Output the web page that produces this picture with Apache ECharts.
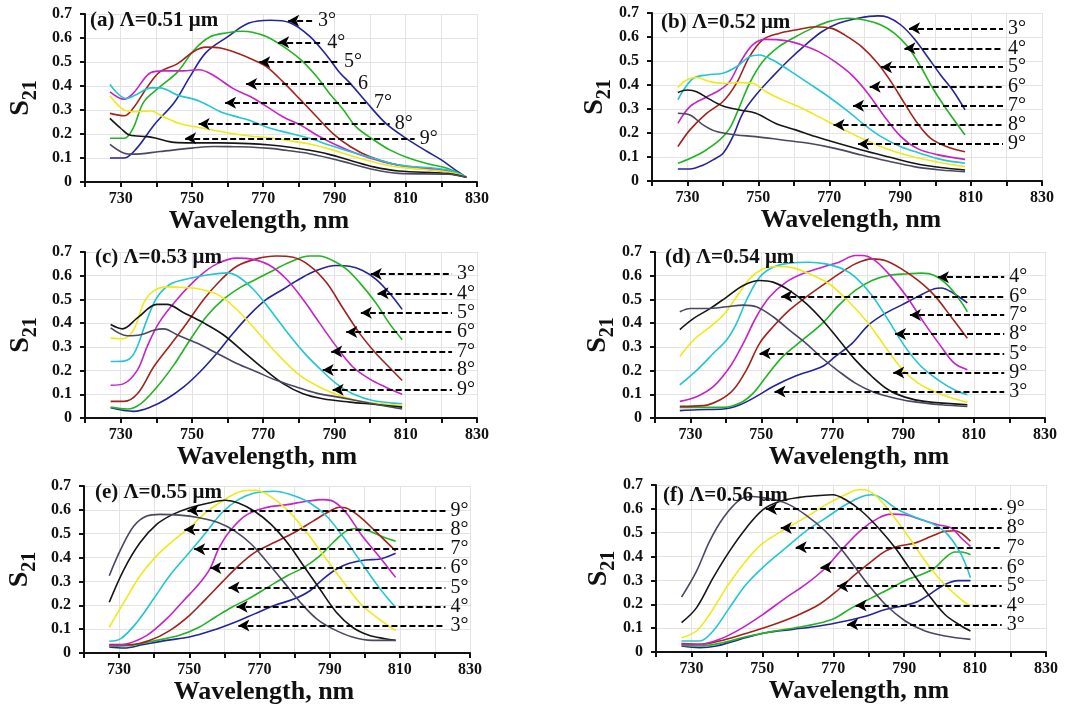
<!DOCTYPE html>
<html>
<head>
<meta charset="utf-8">
<title>S21 spectra</title>
<script src="https://cdn.jsdelivr.net/npm/echarts@6/dist/echarts.min.js"></script>
<style>
  html, body { margin: 0; padding: 0; background: #ffffff; }
  #chart { width: 1076px; height: 711px; }
</style>
</head>
<body>
<div id="chart"></div>
<script>
// S21 transmission versus wavelength for six grating periods (panels a–f).
// Each panel holds one curve per incidence angle; values are [wavelength nm, S21].

// ---- (a) Λ = 0.51 µm ----
const a3 = [[727,0.10],[731,0.10],[734.5,0.14],[739.5,0.24],[745,0.33],[749.5,0.44],[754,0.54],[760,0.605],[766,0.662],[772,0.674],[777.5,0.664],[783,0.608],[788,0.524],[791.5,0.455],[794.5,0.41],[799,0.332],[804.5,0.243],[810,0.183],[816,0.127],[820,0.092],[823.5,0.055],[827,0.02]];
const a4 = [[727,0.182],[731,0.182],[733.5,0.224],[736.5,0.334],[741,0.396],[746,0.459],[750.5,0.548],[755,0.604],[760,0.622],[764,0.628],[767,0.624],[771,0.605],[775.5,0.566],[780.5,0.51],[785,0.44],[788.5,0.371],[792.5,0.301],[796,0.231],[801,0.176],[805.5,0.134],[811,0.099],[816.5,0.075],[822,0.055],[827,0.02]];
const a5 = [[727,0.286],[731,0.276],[733.5,0.307],[737.5,0.396],[741,0.459],[746,0.493],[750.5,0.544],[754,0.562],[758,0.558],[763,0.535],[767,0.51],[771,0.48],[775.5,0.418],[780.5,0.342],[785,0.272],[789.5,0.203],[794.5,0.147],[800,0.105],[806.5,0.075],[813,0.057],[822,0.043],[827,0.02]];
const a6 = [[727,0.376],[731,0.345],[733.5,0.369],[738.5,0.456],[742,0.463],[747.5,0.463],[752,0.468],[756,0.445],[761.5,0.39],[766.5,0.355],[771,0.314],[775.5,0.272],[780.5,0.237],[785,0.196],[790.5,0.154],[796,0.12],[803.5,0.085],[811,0.064],[822,0.046],[827,0.02]];
const a7 = [[727,0.406],[731.5,0.348],[734.5,0.365],[738.5,0.392],[741,0.392],[746,0.362],[752,0.338],[758,0.293],[763.5,0.268],[766.5,0.255],[772,0.224],[777.5,0.203],[783,0.182],[788.5,0.154],[794.5,0.126],[801,0.099],[808,0.071],[822,0.05],[827,0.02]];
const a8 = [[727,0.359],[731,0.30],[734.5,0.293],[738.5,0.296],[742,0.272],[746.5,0.244],[752,0.227],[760,0.205],[766,0.192],[772,0.183],[777.5,0.172],[783,0.158],[788.5,0.138],[794.5,0.11],[801,0.083],[808,0.062],[822,0.042],[827,0.02]];
const a9 = [[727,0.265],[730,0.224],[732.5,0.196],[737.5,0.189],[740,0.182],[745,0.165],[750,0.163],[758,0.163],[766,0.16],[772,0.154],[777.5,0.145],[783,0.132],[788.5,0.115],[794.5,0.09],[801,0.063],[808,0.046],[822,0.035],[827,0.02]];
const a10 = [[727,0.157],[731,0.12],[733.5,0.116],[741,0.127],[750,0.141],[756,0.148],[762,0.147],[766,0.146],[772,0.14],[777.5,0.13],[783,0.118],[788.5,0.1],[794.5,0.077],[801,0.052],[808,0.036],[822,0.032],[827,0.02]];

// ---- (b) Λ = 0.52 µm ----
const b3 = [[727.3,0.05],[730.7,0.05],[734.5,0.067],[737.2,0.088],[740,0.115],[742.8,0.185],[745.6,0.282],[749.3,0.358],[754,0.435],[758.6,0.504],[763.3,0.567],[767.9,0.622],[772.6,0.657],[778.1,0.678],[783.7,0.688],[786.5,0.682],[790.2,0.65],[793.9,0.594],[797.7,0.518],[801.4,0.442],[805.1,0.372],[808.3,0.296]];
const b4 = [[727.3,0.074],[730.7,0.094],[734.5,0.122],[739.1,0.171],[741.9,0.219],[744.7,0.31],[747.5,0.407],[751.2,0.497],[755.8,0.56],[760.5,0.601],[765.1,0.636],[769.8,0.664],[775.4,0.678],[780,0.671],[784.6,0.65],[788.4,0.615],[792.1,0.56],[795.8,0.476],[799.5,0.379],[803.2,0.296],[808.3,0.192]];
const b5 = [[727.3,0.143],[730.7,0.213],[735.4,0.282],[740,0.331],[743.8,0.407],[747.5,0.518],[751.2,0.588],[755.8,0.615],[760.5,0.629],[766.1,0.643],[770.7,0.636],[774.4,0.608],[779.1,0.56],[783.7,0.49],[787.4,0.414],[791.2,0.324],[794.9,0.24],[798.6,0.178],[803.2,0.143],[808.3,0.122]];
const b6 = [[727.3,0.24],[730.7,0.31],[735.4,0.35],[739.1,0.379],[741.9,0.414],[744.7,0.49],[748.4,0.567],[752,0.59],[757.7,0.585],[762.3,0.567],[767,0.539],[771.6,0.497],[776.3,0.442],[780.9,0.365],[785.6,0.268],[790.2,0.185],[794.9,0.135],[800.4,0.11],[808.3,0.09]];
const b7 = [[727.3,0.338],[728.9,0.379],[731.7,0.428],[735.4,0.442],[740,0.449],[743.8,0.476],[747.5,0.518],[750.3,0.525],[754,0.504],[758.6,0.462],[764.2,0.407],[769.8,0.351],[775.4,0.289],[780,0.233],[784.6,0.185],[790.2,0.143],[795.8,0.115],[801.4,0.09],[808.3,0.074]];
const b8 = [[727.3,0.39],[729.8,0.421],[732.6,0.431],[736.3,0.414],[740,0.407],[744.7,0.41],[748.4,0.407],[752.1,0.372],[756.8,0.338],[762.3,0.303],[767.9,0.261],[773.5,0.219],[779.1,0.178],[784.6,0.143],[790.2,0.115],[795.8,0.094],[802.3,0.074],[808.3,0.06]];
const b9 = [[727.3,0.369],[730,0.379],[732.6,0.372],[736.3,0.34],[740,0.313],[744.7,0.296],[749.3,0.282],[754.9,0.24],[760.5,0.213],[766.1,0.185],[771.7,0.16],[779.1,0.129],[786.5,0.101],[793.9,0.074],[801.4,0.056],[808.3,0.046]];
const b10 = [[727.3,0.282],[730.7,0.275],[734.5,0.233],[738.2,0.206],[743.8,0.192],[749.3,0.185],[756.8,0.171],[764.2,0.157],[771.6,0.136],[779.1,0.108],[786.5,0.083],[793.9,0.06],[801.4,0.046],[808.3,0.039]];

// ---- (c) Λ = 0.53 µm ----
const c3 = [[727.2,0.043],[733.7,0.028],[738.4,0.046],[743,0.081],[747.7,0.131],[752.3,0.195],[757,0.273],[761.6,0.358],[766.3,0.437],[770.9,0.5],[775.6,0.543],[780.2,0.586],[784.9,0.622],[790.5,0.643],[794.2,0.64],[797.9,0.622],[801.6,0.586],[805.3,0.529],[809,0.458]];
const c4 = [[727.2,0.046],[731.9,0.038],[735.6,0.06],[740.2,0.131],[744.9,0.223],[749.5,0.33],[754.2,0.43],[758.8,0.5],[763.5,0.55],[768.1,0.586],[772.8,0.622],[777.4,0.657],[783,0.683],[785.8,0.683],[789.5,0.664],[793.3,0.629],[797,0.572],[801.6,0.486],[805.3,0.401],[809,0.33]];
const c5 = [[727.2,0.07],[730.9,0.07],[734.7,0.102],[739.3,0.216],[744,0.309],[748.6,0.401],[753.3,0.5],[757.9,0.579],[762.6,0.64],[768.1,0.671],[773.7,0.683],[778.4,0.678],[783,0.643],[787.7,0.572],[792.3,0.465],[797,0.358],[801.6,0.273],[805.3,0.215],[809,0.158]];
const c6 = [[727.2,0.138],[730.9,0.145],[734.7,0.202],[737.4,0.3],[740.7,0.4],[745.8,0.5],[752.3,0.6],[757,0.65],[762.6,0.674],[767.2,0.669],[771.9,0.643],[776.5,0.586],[781.2,0.5],[785.8,0.401],[790.5,0.302],[795.1,0.216],[799.8,0.165],[804.4,0.13],[809,0.1]];
const c7 = [[727.2,0.238],[730.9,0.24],[733.7,0.27],[737.4,0.415],[740.2,0.508],[744,0.565],[749.5,0.589],[755.1,0.605],[759.8,0.612],[762.6,0.6],[767.2,0.543],[771.9,0.458],[776.5,0.366],[781.2,0.28],[785.8,0.209],[790.5,0.145],[795.1,0.102],[800.7,0.074],[809,0.06]];
const c8 = [[727.2,0.337],[730.5,0.334],[733.7,0.373],[736.5,0.486],[739.3,0.536],[743,0.553],[747.7,0.55],[752.3,0.543],[757.9,0.515],[763.5,0.444],[769.1,0.351],[774.7,0.259],[780.2,0.181],[785.8,0.131],[791.4,0.095],[798.8,0.067],[809,0.053]];
const c9 = [[727.2,0.394],[730.5,0.376],[734.7,0.422],[740.2,0.479],[743,0.479],[747.7,0.444],[753.3,0.401],[758.8,0.351],[764.4,0.28],[770,0.209],[775.6,0.145],[781.2,0.102],[786.7,0.081],[794.2,0.067],[801.6,0.057],[809,0.046]];
const c10 = [[727.2,0.38],[731.9,0.347],[735.6,0.351],[739.3,0.37],[742.1,0.376],[745.8,0.351],[751.4,0.316],[757,0.273],[762.6,0.23],[768.1,0.195],[773.7,0.159],[779.3,0.131],[784.9,0.105],[792.3,0.085],[799.8,0.063],[809,0.038]];

// ---- (d) Λ = 0.54 µm ----
const d3 = [[727,0.031],[731.9,0.035],[739.3,0.038],[744,0.056],[748.6,0.091],[753.3,0.133],[759.8,0.178],[767.2,0.217],[770.9,0.26],[775.6,0.315],[780.2,0.392],[784.9,0.441],[789.5,0.476],[794.2,0.513],[798.8,0.545],[800.7,0.548],[804.4,0.524],[808.1,0.485]];
const d4 = [[727,0.045],[731.9,0.045],[739.3,0.045],[744,0.063],[747.7,0.105],[751.4,0.175],[756,0.259],[761.6,0.329],[767.2,0.399],[771.9,0.476],[776.5,0.538],[781.2,0.58],[785.8,0.601],[791.4,0.608],[795.1,0.611],[798.8,0.601],[802.6,0.559],[806.3,0.49],[808.1,0.448]];
const d5 = [[727,0.049],[733.7,0.052],[738.4,0.077],[742.1,0.119],[745.8,0.203],[749.5,0.315],[753.3,0.385],[757.9,0.455],[762.6,0.51],[767.2,0.559],[771.9,0.608],[776.5,0.65],[781.2,0.671],[784.9,0.664],[789.5,0.629],[794.2,0.58],[798.8,0.517],[803.5,0.427],[808.1,0.336]];
const d6 = [[727,0.07],[731.9,0.091],[736.5,0.133],[741.2,0.217],[744.9,0.315],[748.6,0.427],[752.3,0.51],[757,0.573],[761.6,0.608],[767.2,0.636],[771.9,0.657],[776.5,0.685],[778.4,0.685],[782.1,0.664],[786.7,0.594],[791.4,0.503],[796,0.399],[800.7,0.301],[804.4,0.231],[808.1,0.203]];
const d7 = [[727,0.14],[731.9,0.203],[736.5,0.273],[740.2,0.329],[743,0.399],[745.8,0.497],[749.5,0.594],[753.3,0.636],[757.9,0.653],[763.5,0.657],[768.1,0.65],[772.8,0.629],[776.5,0.594],[781.2,0.517],[785.8,0.413],[790.5,0.301],[795.1,0.217],[799.8,0.161],[804.4,0.119],[808.1,0.098]];
const d8 = [[727,0.259],[730.9,0.329],[735.6,0.385],[739.3,0.434],[743,0.51],[746.7,0.587],[750.5,0.629],[754.2,0.639],[758.8,0.634],[763.5,0.608],[769.1,0.566],[774.7,0.49],[780.2,0.399],[784.9,0.301],[789.5,0.21],[794.2,0.147],[798.8,0.112],[803.5,0.085],[808.1,0.066]];
const d9 = [[727,0.373],[730.9,0.42],[735.6,0.462],[740.2,0.51],[744.9,0.559],[749.5,0.58],[753.3,0.573],[757.9,0.538],[762.6,0.483],[767.2,0.413],[771.9,0.329],[776.5,0.245],[781.2,0.175],[785.8,0.119],[790.5,0.088],[796,0.07],[808.1,0.056]];
const d10 = [[727,0.448],[730,0.462],[734.7,0.462],[740.2,0.469],[744.9,0.476],[748.6,0.469],[753.3,0.427],[757.9,0.371],[762.6,0.315],[767.2,0.252],[771.9,0.196],[776.5,0.147],[781.2,0.112],[785.8,0.091],[792.3,0.07],[800.7,0.056],[808.1,0.049]];

// ---- (e) Λ = 0.55 µm ----
const e3 = [[727.2,0.025],[731.4,0.021],[737,0.036],[743.5,0.053],[750,0.067],[756.5,0.094],[763,0.129],[768.6,0.164],[774.2,0.199],[779.8,0.226],[784.4,0.261],[788.1,0.31],[791.9,0.351],[795.6,0.376],[800.2,0.39],[804,0.393],[808.8,0.418]];
const e4 = [[727.2,0.029],[733.3,0.032],[740.7,0.053],[747.2,0.074],[752.8,0.108],[757.4,0.15],[762.1,0.192],[766.7,0.226],[772.3,0.275],[777.9,0.324],[782.6,0.358],[787.2,0.407],[791,0.463],[794.7,0.511],[797.4,0.522],[801.2,0.511],[805.8,0.483],[808.8,0.469]];
const e5 = [[727.2,0.035],[733.3,0.035],[738.8,0.053],[744.4,0.094],[750,0.157],[754.7,0.226],[759.3,0.296],[764,0.365],[768.6,0.421],[774.2,0.463],[779.8,0.504],[785.3,0.553],[790,0.594],[792.8,0.611],[794.7,0.608],[798.4,0.574],[803,0.511],[808.8,0.428]];
const e6 = [[727.2,0.032],[732.3,0.039],[737.9,0.074],[743.5,0.143],[748.1,0.215],[752.8,0.29],[756,0.356],[758.3,0.435],[761.2,0.504],[765.8,0.574],[771.4,0.608],[777.9,0.622],[783.5,0.636],[788.1,0.643],[791,0.636],[794.7,0.588],[799.3,0.49],[804,0.407],[808.8,0.317]];
const e7 = [[727.2,0.049],[730.5,0.06],[735.1,0.129],[739.8,0.226],[744.4,0.324],[750,0.421],[754.7,0.504],[759.3,0.588],[764,0.643],[768.6,0.671],[774.2,0.678],[778.8,0.664],[784.4,0.629],[789.1,0.574],[793.7,0.49],[798.4,0.393],[803,0.296],[806.7,0.226],[808.8,0.192]];
const e8 = [[727.2,0.108],[731.4,0.213],[736,0.324],[740.7,0.407],[745.3,0.469],[750,0.525],[754.7,0.588],[759.3,0.636],[764.9,0.678],[768.6,0.682],[772.3,0.664],[777.9,0.601],[783.5,0.504],[789.1,0.393],[794.7,0.282],[799.3,0.199],[804,0.143],[808.8,0.094]];
const e9 = [[727.2,0.213],[731.4,0.351],[736,0.463],[740.7,0.539],[745.3,0.581],[750,0.608],[755.6,0.629],[760.2,0.64],[764,0.629],[768.6,0.594],[773.3,0.539],[777.9,0.463],[782.6,0.365],[787.2,0.268],[791.9,0.171],[796.5,0.108],[801.2,0.074],[805.8,0.06],[808.8,0.053]];
const e10 = [[727.2,0.324],[730.5,0.435],[734.2,0.532],[737.9,0.574],[741.6,0.581],[747.2,0.578],[752.8,0.567],[758.4,0.546],[763,0.511],[767.7,0.456],[772.3,0.379],[777,0.296],[781.6,0.213],[786.3,0.143],[790.9,0.101],[796.5,0.067],[802.1,0.053],[808.8,0.053]];

// ---- (f) Λ = 0.56 µm ----
const f3 = [[727.2,0.025],[732.3,0.018],[737,0.025],[743.6,0.053],[751,0.081],[758.5,0.095],[766,0.109],[773.5,0.13],[779.1,0.15],[784.7,0.178],[790.3,0.196],[794,0.213],[797.8,0.248],[801.5,0.283],[805.2,0.299],[808.7,0.299]];
const f4 = [[727.2,0.029],[732.3,0.025],[738.8,0.039],[746.3,0.067],[753.7,0.088],[762.1,0.109],[769.6,0.136],[775.2,0.185],[780.8,0.227],[785.5,0.262],[790.2,0.299],[794.9,0.325],[798.6,0.352],[801.5,0.394],[804.3,0.419],[806.2,0.419],[808.7,0.408]];
const f5 = [[727.2,0.035],[732.3,0.032],[737.9,0.046],[744.5,0.074],[752,0.109],[759.3,0.15],[766,0.199],[771.5,0.262],[776.2,0.325],[780.8,0.38],[784.6,0.422],[788.3,0.443],[793,0.457],[797.7,0.485],[801.5,0.506],[804.3,0.508],[808.7,0.464]];
const f6 = [[727.2,0.032],[732.3,0.032],[737.9,0.053],[743.6,0.095],[750.1,0.157],[756.6,0.227],[762.2,0.283],[767.8,0.352],[772.4,0.429],[778,0.513],[782.7,0.561],[786.4,0.578],[790.2,0.575],[794.9,0.554],[799.5,0.533],[803.3,0.52],[806.1,0.478],[808.7,0.443]];
const f7 = [[727.2,0.046],[732.3,0.046],[736.1,0.088],[740.7,0.185],[745.4,0.283],[751,0.366],[756.6,0.436],[762.2,0.506],[767.8,0.561],[773.5,0.617],[778.1,0.652],[780.8,0.659],[783.6,0.645],[788.3,0.596],[793.9,0.561],[798.6,0.533],[802.3,0.492],[806.1,0.408],[808.7,0.311]];
const f8 = [[727.2,0.06],[731.4,0.088],[735.1,0.157],[739.8,0.269],[744.5,0.366],[749.1,0.443],[753.8,0.492],[759.4,0.54],[764.1,0.582],[768.7,0.624],[773.4,0.659],[777.1,0.68],[779,0.68],[782.7,0.645],[787.4,0.561],[792.1,0.464],[796.7,0.366],[801.4,0.283],[806.1,0.22],[808.7,0.192]];
const f9 = [[727.2,0.123],[731.4,0.185],[736.1,0.311],[740.7,0.422],[745.4,0.519],[750.1,0.596],[754.8,0.631],[760.4,0.648],[766,0.656],[769.8,0.659],[773.5,0.638],[778.1,0.589],[782.8,0.519],[787.5,0.436],[792.1,0.338],[796.8,0.241],[801.5,0.157],[806.1,0.109],[808.7,0.088]];
const f10 = [[727.2,0.23],[731.4,0.338],[735.1,0.464],[738.9,0.561],[743.6,0.638],[747.3,0.652],[751,0.645],[756.6,0.624],[762.2,0.575],[767.8,0.506],[773.5,0.408],[779.1,0.297],[784.7,0.199],[790.3,0.13],[795.9,0.088],[801.5,0.067],[808.7,0.053]];

// Angle call-outs: [label, arrow tip λ, dashed tail λ, S21 level]
const arrowsA = [['3°',777,784,0.672],['4°',774.2,786.6,0.582],['5°',768.9,791.3,0.499],['6',765.2,795.2,0.408],['7°',759.3,799.7,0.33],['8°',751.9,805.5,0.242],['9°',748.1,812.5,0.182]];
const arrowsB = [['3°',792.5,819,0.636],['4°',791.2,819,0.553],['5°',784.6,819,0.474],['6°',781.4,819,0.393],['7°',776.7,819,0.314],['8°',771.2,819,0.233],['9°',778.1,819,0.154]];
const arrowsC = [['3°',800.2,823,0.607],['4°',802.1,823,0.526],['5°',797.4,823,0.444],['6°',793.3,823,0.363],['7°',789.1,823,0.28],['8°',786.7,823,0.202],['9°',789.5,823,0.119]];
const arrowsD = [['4°',799.8,818.5,0.594],['6°',755.6,818.5,0.513],['7°',791.9,818.5,0.434],['8°',787.7,818.5,0.354],['5°',749.5,818.5,0.273],['9°',787.2,818.5,0.192],['3°',753.7,818.5,0.112]];
const arrowsE = [['9°',749.5,823,0.597],['8°',748.6,823,0.518],['7°',751.4,823,0.435],['6°',756,823,0.356],['5°',761.2,823,0.275],['4°',763.5,823,0.194],['3°',764,823,0.115]];
const arrowsF = [['9°',751,817.5,0.599],['8°',755.2,817.5,0.52],['7°',759.4,817.5,0.439],['6°',766.4,817.5,0.355],['5°',771.1,817.5,0.276],['4°',776.3,817.5,0.195],['3°',773.9,817.5,0.116]];

const panelTitles = ['(a) Λ=0.51 μm','(b) Λ=0.52 μm','(c) Λ=0.53 μm','(d) Λ=0.54 μm','(e) Λ=0.55 μm','(f) Λ=0.56 μm'];
const angleNames = ['3°','4°','5°','6°','7°','8°','9°','10°'];

// ---- layout and styling ----
const SERIF = '"Liberation Serif", "Times New Roman", "DejaVu Serif", serif';
const curveColors = ['#25259a','#22b422','#a3221c','#c623c6','#22c6d2','#eeea18','#161616','#48485f'];

// box: plot area; titleAt: panel caption; sName: gap of the S21 caption;
// xShift: horizontal offset of the wavelength caption from the axis centre
const panels = [
  { curves: [a3,a4,a5,a6,a7,a8,a9,a10], arrows: arrowsA, box: {left: 85,  top: 14,  width: 392, height: 168}, titleAt: [87, 9],   sName: 50, xShift: -22 },
  { curves: [b3,b4,b5,b6,b7,b8,b9,b10], arrows: arrowsB, box: {left: 652, top: 13,  width: 390, height: 168}, titleAt: [658, 11], sName: 42, xShift: 4 },
  { curves: [c3,c4,c5,c6,c7,c8,c9,c10], arrows: arrowsC, box: {left: 85,  top: 252, width: 392, height: 166}, titleAt: [92, 246], sName: 50, xShift: -14 },
  { curves: [d3,d4,d5,d6,d7,d8,d9,d10], arrows: arrowsD, box: {left: 655, top: 252, width: 390, height: 166}, titleAt: [662, 246], sName: 42, xShift: 9 },
  { curves: [e3,e4,e5,e6,e7,e8,e9,e10], arrows: arrowsE, box: {left: 84,  top: 486, width: 386, height: 167}, titleAt: [92, 481], sName: 50, xShift: -13 },
  { curves: [f3,f4,f5,f6,f7,f8,f9,f10], arrows: arrowsF, box: {left: 656, top: 485, width: 390, height: 167}, titleAt: [660, 484], sName: 42, xShift: 8 }
];

const grid = [], xAxis = [], yAxis = [], series = [], title = [];

panels.forEach((p, i) => {
  grid.push(Object.assign({ containLabel: false }, p.box));

  const shift = p.xShift;
  xAxis.push({
    type: 'value', gridIndex: i, min: 720, max: 830, interval: 10,
    name: 'Wavelength, nm', nameLocation: 'middle', nameGap: 25,
    nameTextStyle: {
      fontFamily: SERIF, fontWeight: 'bold', fontSize: 26, color: '#111',
      padding: shift >= 0 ? [0, 0, 0, 2 * shift] : [0, -2 * shift, 0, 0]
    },
    axisLine: { show: true, onZero: false, lineStyle: { color: '#111', width: 2 } },
    axisTick: { show: true, length: 5, lineStyle: { color: '#111', width: 2 } },
    axisLabel: {
      fontFamily: SERIF, fontWeight: 'bold', fontSize: 16, color: '#111', margin: 9,
      formatter: v => ((Math.round(v) - 730) % 20 === 0 ? String(Math.round(v)) : '')
    },
    splitLine: { show: true, lineStyle: { color: '#e3e3e3', width: 1 } }
  });

  yAxis.push({
    type: 'value', gridIndex: i, min: 0, max: 0.7, interval: 0.1,
    name: '{s|S}{d|21}', nameLocation: 'middle', nameGap: p.sName, nameRotate: 90,
    nameTextStyle: {
      rich: {
        s: { fontFamily: SERIF, fontWeight: 'bold', fontSize: 28, color: '#111', verticalAlign: 'bottom', lineHeight: 32 },
        d: { fontFamily: SERIF, fontWeight: 'bold', fontSize: 20, color: '#111', verticalAlign: 'bottom', lineHeight: 32, padding: [0, 0, -6, 0] }
      }
    },
    axisLine: { show: true, onZero: false, lineStyle: { color: '#111', width: 2 } },
    axisTick: { show: true, length: 5, lineStyle: { color: '#111', width: 2 } },
    axisLabel: {
      fontFamily: SERIF, fontWeight: 'bold', fontSize: 16, color: '#111', margin: 13,
      formatter: v => (Math.abs(v) < 1e-9 ? '0' : v.toFixed(1))
    },
    splitLine: { show: true, lineStyle: { color: '#e3e3e3', width: 1 } }
  });

  title.push({
    text: panelTitles[i], left: p.titleAt[0], top: p.titleAt[1], padding: [1, 3],
    textStyle: { fontFamily: SERIF, fontWeight: 'bold', fontSize: 21, color: '#111' }
  });

  p.curves.forEach((pts, k) => {
    series.push({
      type: 'line', name: angleNames[k], xAxisIndex: i, yAxisIndex: i,
      data: pts, smooth: 0.35, showSymbol: false, symbol: 'none', silent: true,
      lineStyle: { color: curveColors[k], width: 1.6 }, z: 3
    });
  });

  // dashed call-out arrows pointing at the curves, labelled at their tail
  series.push({
    type: 'line', xAxisIndex: i, yAxisIndex: i, data: [], silent: true, z: 5,
    markLine: {
      silent: true, animation: false, precision: 4,
      symbol: ['arrow', 'none'], symbolSize: [9, 11],
      lineStyle: { color: '#000', width: 2, type: [6, 3] },
      label: {
        show: true, position: 'end', distance: 5, formatter: '{b}',
        fontFamily: SERIF, fontSize: 20, color: '#111'
      },
      emphasis: { disabled: true },
      data: p.arrows.map(a => [
        { coord: [a[1], a[3]], name: a[0] },
        { coord: [a[2], a[3]] }
      ])
    }
  });
});

const chart = echarts.init(document.getElementById('chart'), null, { renderer: 'canvas' });
chart.setOption({
  backgroundColor: '#ffffff',
  animation: false,
  title, grid, xAxis, yAxis, series
});
</script>
</body>
</html>
